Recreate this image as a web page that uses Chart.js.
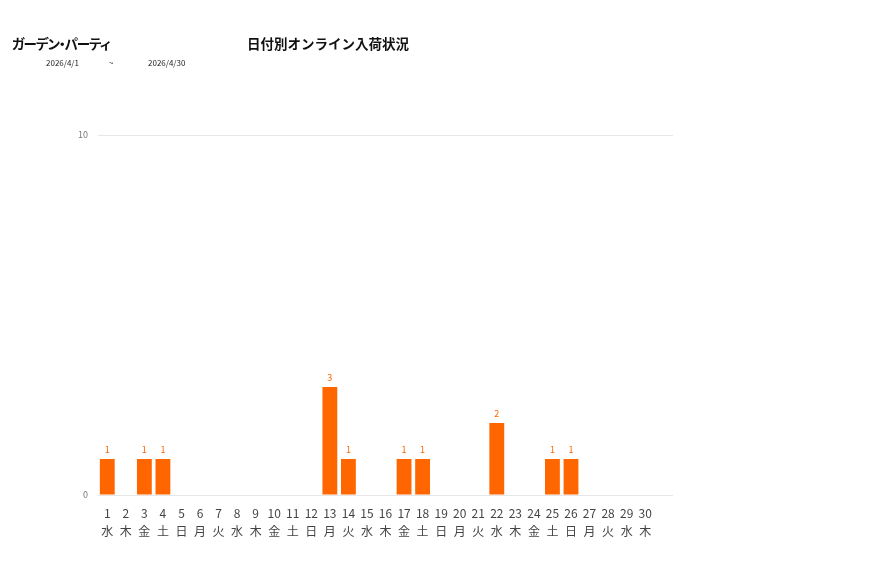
<!DOCTYPE html>
<html>
<head>
<meta charset="utf-8">
<script src="https://cdn.jsdelivr.net/npm/chart.js@4.4.1/dist/chart.umd.min.js"></script>
<style>
  html, body { margin: 0; padding: 0; background: #fff; }
  body { width: 877px; height: 578px; position: relative; overflow: hidden;
         font-family: "Noto Sans CJK JP", "Noto Sans", sans-serif; }
  #wrap { position: absolute; left: 0; top: 0; width: 877px; height: 578px; }
  .shop { position: absolute; left: 12px; top: 33px; font-size: 13.5px; font-weight: bold; color: #111;
          font-feature-settings: "palt"; letter-spacing: -1px; }
  .title { position: absolute; left: 247px; top: 33px; font-size: 13.5px; font-weight: bold; color: #111; }
  .range { position: absolute; top: 57px; font-size: 8px; color: #222; }
</style>
</head>
<body>
<div id="wrap"><canvas id="chart" width="877" height="578"></canvas></div>
<div class="shop">ガーデン・パーティ</div>
<div class="title">日付別オンライン入荷状況</div>
<div class="range" style="left:46px">2026/4/1</div>
<div class="range" style="left:109px">~</div>
<div class="range" style="left:148px">2026/4/30</div>
<script>
// 31 slots: the last one is left empty in the original
const days = ['1','2','3','4','5','6','7','8','9','10','11','12','13','14','15',
  '16','17','18','19','20','21','22','23','24','25','26','27','28','29','30',''];
const weekdays = ['水','木','金','土','日','月','火','水','木','金','土','日','月','火','水',
  '木','金','土','日','月','火','水','木','金','土','日','月','火','水','木',''];
const arrivals = [1,0,1,1,0,0,0,0,0,0,0,0,3,1,0,0,1,1,0,0,0,2,0,0,1,1,0,0,0,0,null];
const yTicks = [0, 10];

const labels = days.map((d, i) => [d, weekdays[i]]);

// value labels above the bars
const barValues = {
  id: 'barValues',
  afterDatasetsDraw(chart) {
    const ctx = chart.ctx;
    const meta = chart.getDatasetMeta(0);
    ctx.save();
    ctx.fillStyle = '#ff6600';
    ctx.font = '9px "Noto Sans CJK JP", sans-serif';
    ctx.textAlign = 'center';
    ctx.textBaseline = 'bottom';
    meta.data.forEach((bar, i) => {
      if (!arrivals[i]) return;
      ctx.fillText(arrivals[i], bar.x, bar.y - 5);
    });
    ctx.restore();
  }
};

new Chart(document.getElementById('chart').getContext('2d'), {
  type: 'bar',
  data: {
    labels,
    datasets: [{
      label: '入荷',
      data: arrivals,
      backgroundColor: '#ff6600',
      borderWidth: 0,
      barPercentage: 0.8,
      categoryPercentage: 1.0
    }]
  },
  options: {
    responsive: false,
    animation: false,
    layout: { padding: { left: 60, right: 204, top: 135, bottom: 20 } },
    scales: {
      x: {
        grid: { display: false, drawTicks: false },
        border: { display: false },
        ticks: {
          color: '#444',
          font: { size: 12, family: '"Noto Sans CJK JP", sans-serif', lineHeight: 1.5 },
          padding: 9,
          maxRotation: 0,
          autoSkip: false
        },
        afterFit(scale) { scale.height = 63; }
      },
      y: {
        min: 0,
        max: 10,
        afterBuildTicks(scale) { scale.ticks = yTicks.map(v => ({ value: v })); },
        grid: { color: '#e6e6e6', drawTicks: false, lineWidth: 1 },
        border: { display: false },
        ticks: {
          color: '#777',
          font: { size: 9, family: '"Noto Sans CJK JP", sans-serif' },
          padding: 10
        },
        afterFit(scale) { scale.width = 38; }
      }
    },
    plugins: {
      legend: { display: false },
      tooltip: { enabled: false }
    }
  },
  plugins: [barValues]
});
</script>
</body>
</html>
